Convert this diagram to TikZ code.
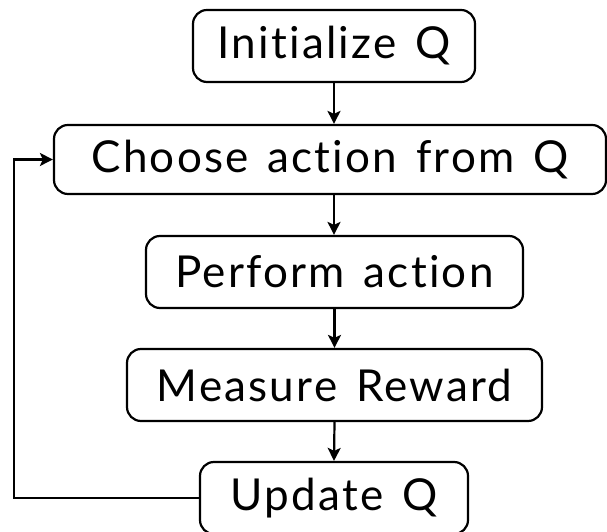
\documentclass[tikz,border=0pt]{standalone}
\usepackage{fontspec}
\setmainfont{Lato}[LetterSpace=5,WordSpace=1.4,Ligatures=NoCommon]
\usetikzlibrary{arrows.meta}
\begin{document}
\begin{tikzpicture}[x=1pt,y=1pt,
  box/.style={draw, line width=2.2pt, rounded corners=14pt, minimum height=72pt, inner sep=0pt,
    font=\fontsize{44}{50}\selectfont},
  conn/.style={line width=2.2pt, -{Stealth[length=13pt,width=13pt,inset=3pt]}}]
\useasboundingbox (0,0) rectangle (607,532);
\node[box, minimum width=282pt] (init) at (334,486) {Initialize Q};
\node[box, minimum width=552pt, minimum height=69pt] (choose) at (330,372.5) {Choose action from Q};
\node[box, minimum width=377pt] (perform) at (334.5,260) {Perform action};
\node[box, minimum width=415pt] (measure) at (334.5,147) {Measure Reward};
\node[box, minimum width=268pt] (update) at (334,34) {Update Q};
\coordinate (loop) at (14,34);
\draw[conn] (init.south) -- (init.south |- choose.north);
\draw[conn] (init.south |- choose.south) -- (init.south |- perform.north);
\draw[conn] (perform.south) -- (measure.north);
\draw[conn] (measure.south) -- (update.north);
\draw[conn] (update.west) -- (loop) |- (choose.west);
\end{tikzpicture}
\end{document}
